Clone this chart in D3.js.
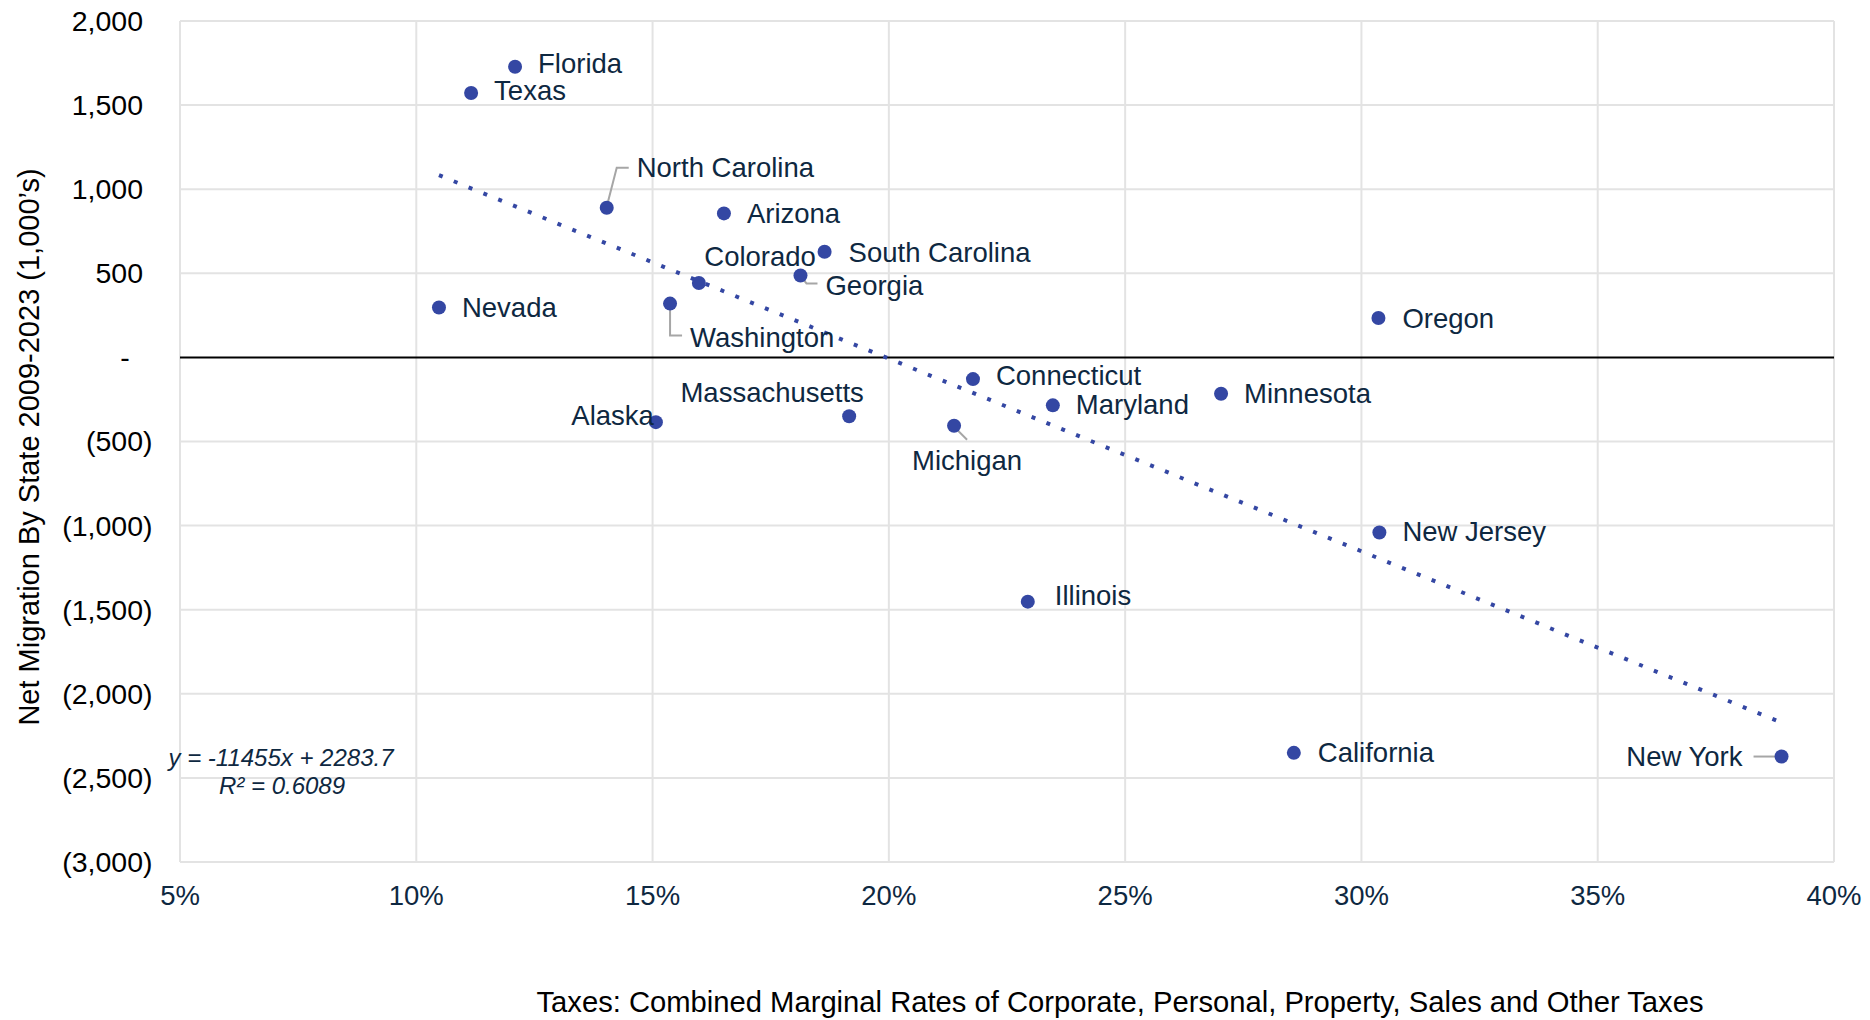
<!DOCTYPE html>
<html>
<head>
<meta charset="utf-8">
<script src="https://cdn.jsdelivr.net/npm/d3@7"></script>
<style>
  body { margin: 0; background: #ffffff; }
  text { font-family: "Liberation Sans", Arial, sans-serif; }
</style>
</head>
<body>
<div id="main"></div>
<script>
// chart values
const states = ["Florida", "Texas", "North Carolina", "Arizona", "South Carolina", "Colorado",
  "Georgia", "Nevada", "Washington", "Oregon", "Connecticut", "Maryland", "Minnesota",
  "Alaska", "Massachusetts", "Michigan", "New Jersey", "Illinois", "California", "New York"];
const taxRates = [0.1209, 0.1116, 0.1403, 0.1651, 0.1864, 0.1598,
  0.1813, 0.1048, 0.1537, 0.3036, 0.2178, 0.2347, 0.2703,
  0.1507, 0.1916, 0.2138, 0.3038, 0.2294, 0.2857, 0.3889];
const netMigration = [1728, 1572, 890, 856, 628, 442,
  487, 297, 320, 234, -129, -285, -216,
  -385, -350, -406, -1041, -1452, -2351, -2373];

const xTicks = [0.05, 0.10, 0.15, 0.20, 0.25, 0.30, 0.35, 0.40];
const yTicks = [2000, 1500, 1000, 500, 0, -500, -1000, -1500, -2000, -2500, -3000];

// linear trendline as printed on the chart
const trendSlope = -11455;
const trendIntercept = 2283.7;
const trendR2 = 0.6089;

const xTitle = "Taxes: Combined Marginal Rates of Corporate, Personal, Property, Sales and Other Taxes";
const yTitle = "Net Migration By State 2009-2023 (1,000\u2019s)";

// layout
const ctx = {
  width: 1870,
  height: 1020,
  left: 180,
  right: 1834,
  top: 21,
  bottom: 862,
  dot: "#3447A3",
  navy: "#0E2841",
  grid: "#E3E3E3",
  leader: "#A6A6A6"
};

// label placement relative to each dot: [dx, dy, anchor]
const labelPlacement = {
  "Florida": [23, -3, "start"],
  "Texas": [23, -3, "start"],
  "North Carolina": [30, -40, "start"],
  "Arizona": [23, 0, "start"],
  "South Carolina": [24, 1, "start"],
  "Colorado": [117, -27, "end"],
  "Georgia": [25, 10, "start"],
  "Nevada": [23, 0, "start"],
  "Washington": [20, 34, "start"],
  "Oregon": [24, 0, "start"],
  "Connecticut": [23, -4, "start"],
  "Maryland": [23, -1, "start"],
  "Minnesota": [23, 0, "start"],
  "Alaska": [-2, -7, "end"],
  "Massachusetts": [-77, -24, "middle"],
  "Michigan": [13, 35, "middle"],
  "New Jersey": [23, -1, "start"],
  "Illinois": [27, -6, "start"],
  "California": [24, 0, "start"],
  "New York": [-39, 0, "end"]
};

// leader lines, points relative to the dot
const leaderLines = {
  "North Carolina": [[1, -5], [10, -40], [22, -40]],
  "Washington": [[0, 4], [0, 32], [12, 32]],
  "Georgia": [[2, 3], [6, 8], [17, 8]],
  "Michigan": [[3, 4], [13, 14]],
  "New York": [[-28, 0], [-6, 0]]
};

function fmtY(v) {
  if (v === 0) return "-";
  const s = d3.format(",")(Math.abs(v));
  return v < 0 ? "(" + s + ")" : s;
}

// accounting style alignment: positives leave room for ")", zero dash sits further in
function yLabelX(v) {
  if (v === 0) return 125;
  return v < 0 ? 152.5 : 143;
}

function createViz() {
  const svg = d3.select("#main")
    .append("svg")
    .attr("width", ctx.width)
    .attr("height", ctx.height);

  const x = d3.scaleLinear().domain([0.05, 0.40]).range([ctx.left, ctx.right]);
  const y = d3.scaleLinear().domain([-3000, 2000]).range([ctx.bottom, ctx.top]);

  // gridlines
  const grid = svg.append("g");
  grid.selectAll("line.v")
    .data(xTicks)
    .enter().append("line")
    .attr("x1", d => x(d)).attr("x2", d => x(d))
    .attr("y1", ctx.top).attr("y2", ctx.bottom)
    .attr("stroke", ctx.grid).attr("stroke-width", 2);
  grid.selectAll("line.h")
    .data(yTicks.filter(d => d !== 0))
    .enter().append("line")
    .attr("x1", ctx.left).attr("x2", ctx.right)
    .attr("y1", d => y(d)).attr("y2", d => y(d))
    .attr("stroke", ctx.grid).attr("stroke-width", 2);

  // zero line
  svg.append("line")
    .attr("x1", ctx.left).attr("x2", ctx.right)
    .attr("y1", y(0)).attr("y2", y(0))
    .attr("stroke", "#000").attr("stroke-width", 2);

  // y axis labels
  svg.append("g").selectAll("text")
    .data(yTicks)
    .enter().append("text")
    .attr("x", yLabelX)
    .attr("y", d => y(d))
    .attr("dy", "0.35em")
    .attr("text-anchor", d => d === 0 ? "middle" : "end")
    .attr("font-size", 28.5)
    .attr("fill", "#000")
    .text(fmtY);

  // x axis labels
  svg.append("g").selectAll("text")
    .data(xTicks)
    .enter().append("text")
    .attr("x", d => x(d))
    .attr("y", 895)
    .attr("dy", "0.35em")
    .attr("text-anchor", "middle")
    .attr("font-size", 27.5)
    .attr("fill", ctx.navy)
    .text(d3.format(".0%"));

  // axis titles
  svg.append("text")
    .attr("x", 1120).attr("y", 1012)
    .attr("text-anchor", "middle")
    .attr("font-size", 29.2)
    .attr("fill", "#000")
    .text(xTitle);
  svg.append("text")
    .attr("transform", "translate(29,447) rotate(-90)")
    .attr("dy", "0.35em")
    .attr("text-anchor", "middle")
    .attr("font-size", 29)
    .attr("fill", "#000")
    .text(yTitle);

  // trendline across the data's x range
  const xr = d3.extent(taxRates);
  svg.append("line")
    .attr("x1", x(xr[0])).attr("y1", y(trendSlope * xr[0] + trendIntercept))
    .attr("x2", x(xr[1])).attr("y2", y(trendSlope * xr[1] + trendIntercept))
    .attr("stroke", ctx.dot)
    .attr("stroke-width", 4)
    .attr("stroke-dasharray", "4 12");

  svg.append("text")
    .attr("x", 281).attr("y", 758)
    .attr("dy", "0.35em")
    .attr("text-anchor", "middle")
    .attr("font-size", 24)
    .attr("font-style", "italic")
    .attr("fill", ctx.navy)
    .text("y = " + trendSlope + "x + " + trendIntercept);
  svg.append("text")
    .attr("x", 282).attr("y", 786)
    .attr("dy", "0.35em")
    .attr("text-anchor", "middle")
    .attr("font-size", 24)
    .attr("font-style", "italic")
    .attr("fill", ctx.navy)
    .text("R\u00B2 = " + trendR2);

  const data = states.map((s, i) => ({ state: s, rate: taxRates[i], net: netMigration[i] }));

  // leader lines
  svg.append("g").selectAll("path")
    .data(data.filter(d => leaderLines[d.state]))
    .enter().append("path")
    .attr("d", d => d3.line()(leaderLines[d.state].map(p => [x(d.rate) + p[0], y(d.net) + p[1]])))
    .attr("fill", "none")
    .attr("stroke", ctx.leader)
    .attr("stroke-width", 2);

  // points
  svg.append("g").selectAll("circle")
    .data(data)
    .enter().append("circle")
    .attr("cx", d => x(d.rate))
    .attr("cy", d => y(d.net))
    .attr("r", 7)
    .attr("fill", ctx.dot);

  // labels
  svg.append("g").selectAll("text")
    .data(data)
    .enter().append("text")
    .attr("x", d => x(d.rate) + labelPlacement[d.state][0])
    .attr("y", d => y(d.net) + labelPlacement[d.state][1])
    .attr("dy", "0.35em")
    .attr("text-anchor", d => labelPlacement[d.state][2])
    .attr("font-size", 27.5)
    .attr("fill", ctx.navy)
    .text(d => d.state);
}

createViz();
</script>
</body>
</html>
